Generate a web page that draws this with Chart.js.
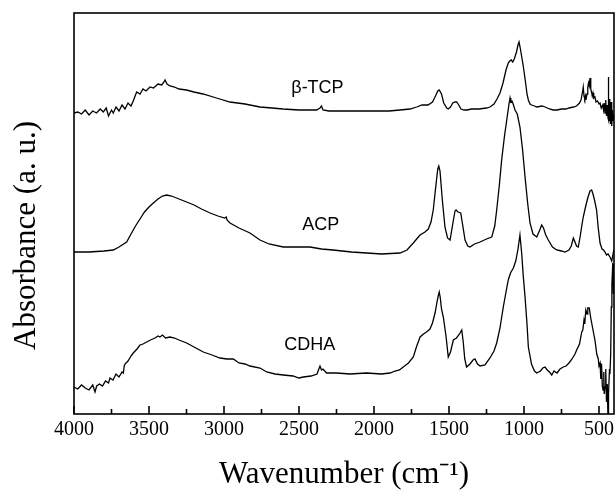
<!DOCTYPE html>
<html><head><meta charset="utf-8">
<script src="https://cdn.jsdelivr.net/npm/chart.js@4.4.1/dist/chart.umd.min.js"></script>
<style>html,body{margin:0;padding:0;background:#fff}#wrap{width:616px;height:490px}</style>
</head><body><div id="wrap"><canvas id="c" width="616" height="490"></canvas></div>
<script>
// ---- axis ticks ----
const xTickValues = [4000,3500,3000,2500,2000,1500,1000,500];
const xMinorTicks = [3750,3250,2750,2250,1750,1250,750];
const xTitle = 'Wavenumber (cm\u207B\u00B9)';
const yTitle = 'Absorbance (a. u.)';

// ---- curve labels ----
const curveLabels = ['\u03B2-TCP','ACP','CDHA'];
const labelWn = [2377, 2355, 2429];
const labelAbs = [326, 189, 69];

// ---- beta-TCP ----
const tcpWn = [4000,3975,3950,3925,3900,3875,3850,3825,3805,3785,3770,3750,3738,3720,3700,3680,3660,3640,3620,3605,3590,3582,3560,3540,3520,3493,3470,3440,3415,3400,3393,3380,3360,3330,3300,3250,3200,3140,3050,2960,2860,2760,2680,2607,2500,2420,2382,2360,2350,2340,2300,2160,2000,1900,1827,1760,1715,1680,1640,1610,1590,1575,1565,1550,1535,1515,1505,1490,1475,1460,1449,1435,1420,1400,1380,1350,1300,1250,1227,1200,1180,1160,1140,1120,1105,1095,1085,1075,1065,1050,1040,1033,1025,1015,1005,990,980,971,960,950,930,915,880,860,830,805,780,750,720,700,671,650,630,620,610,605,600,595,590,587,580,575,570,565,560,555,550,545,540,535,527,520,510,500,493,485,475,470,465,460,455,450,445,440,438,435,432,430,427,423,420,415,410,405,400];
const tcpAbs = [301,302,300,304,299,303,301,305,302,306,298,304,301,307,303,309,305,311,308,313,319,322,320,325,323,327,326,330,329,332,334,330,328,327,325,324,322,320,316,312,310,307,306,305,304,304,304,306,308,304,303,303,303,303,304,305,307,309,309,312,318,323,324,320,311,306,305,307,311,312,312,309,305,304,304,305,305,306,307,310,315,321,331,344,351,353,354,352,355,362,369,372,366,357,348,332,320,314,310,309,308,307,308,307,305,304,304,305,305,306,307,308,311,314,322,327,318,315,318,314,320,326,331,328,336,325,322,318,321,316,317,312,313,310,311,306,309,304,311,301,314,298,309,296,337,294,315,293,306,290,312,288,304,293,299];

// ---- ACP ----
const acpWn = [4000,3900,3800,3738,3700,3649,3620,3590,3560,3530,3500,3471,3440,3410,3382,3350,3300,3249,3200,3150,3093,3040,2995,2985,2980,2960,2900,2827,2760,2700,2605,2500,2427,2350,2273,2150,2049,1950,1827,1780,1738,1710,1693,1660,1638,1620,1605,1590,1575,1568,1560,1545,1527,1510,1493,1475,1460,1453,1440,1422,1410,1393,1375,1360,1330,1293,1250,1215,1195,1182,1165,1149,1130,1115,1100,1093,1088,1080,1070,1060,1045,1027,1010,993,975,960,940,915,895,882,870,855,838,810,782,750,727,700,685,671,660,650,638,625,615,605,590,575,560,549,540,530,516,505,493,480,470,460,450,440,427,415,405,400];
const acpAbs = [162,162,163,164,167,172,180,188,195,202,207,211,215,218,219,218,215,212,209,205,201,198,196,197,194,191,186,181,174,170,167,167,167,165,164,162,161,160,161,164,171,176,179,182,185,192,204,225,245,248,243,215,187,176,174,190,203,204,202,201,190,174,168,167,170,172,175,177,188,204,228,254,278,294,310,316,312,313,309,304,300,287,265,237,210,191,180,177,184,189,186,179,174,167,164,163,162,164,168,176,172,168,167,178,188,197,207,216,223,224,220,214,204,186,171,165,164,162,159,160,157,153,161,164];

// ---- CDHA ----
const cdhaWn = [4000,3975,3950,3925,3900,3875,3860,3849,3830,3810,3790,3770,3760,3740,3720,3700,3680,3671,3665,3660,3640,3620,3605,3580,3560,3540,3515,3490,3460,3440,3427,3410,3390,3360,3330,3300,3249,3200,3138,3080,3027,2980,2938,2900,2860,2827,2760,2715,2660,2605,2540,2500,2471,2420,2380,2365,2360,2350,2340,2316,2250,2160,2050,1950,1893,1860,1830,1805,1770,1738,1715,1700,1693,1670,1650,1627,1610,1593,1580,1572,1565,1558,1550,1538,1520,1505,1490,1471,1450,1430,1415,1405,1395,1383,1360,1340,1327,1310,1293,1260,1227,1200,1182,1160,1138,1120,1105,1090,1071,1055,1040,1027,1015,1005,993,980,971,950,930,915,890,875,860,845,830,815,800,780,760,738,720,700,680,660,649,630,615,608,600,595,588,580,575,565,555,545,535,527,515,505,500,493,488,483,478,473,468,465,460,455,450,445,440,438,435,430,427,422,418,414,408,404,400];
const cdhaAbs = [27,25,29,26,24,29,22,28,30,28,33,31,36,34,40,37,42,41,48,50,53,58,61,65,69,70,72,74,76,78,77,79,76,77,76,74,71,67,62,59,56,55,55,51,50,48,46,42,40,39,38,36,37,38,40,46,48,44,45,41,41,40,41,40,41,43,44,47,51,57,68,74,77,80,82,85,91,101,112,118,122,116,105,97,78,57,62,74,76,80,84,72,55,47,50,54,55,50,48,49,56,63,71,86,107,122,134,141,146,153,165,179,160,138,117,90,67,50,43,41,43,46,47,44,42,39,43,41,45,47,48,51,55,60,64,70,82,84,94,90,104,100,106,106,96,88,80,74,60,55,48,51,35,50,28,24,42,20,27,45,12,30,-5,-3,20,45,40,60,107,130,151,120,150];

const toPts = (xs, ys) => xs.map((v, i) => ({x: v, y: ys[i]}));

const SERIF = '"Liberation Serif", "Times New Roman", serif';
const SANS = '"Liberation Sans", Arial, sans-serif';

const decorPlugin = {
  id: 'decor',
  afterDatasetsDraw(chart) {
    const {ctx, chartArea: a, scales: {x, y}} = chart;
    ctx.save();
    ctx.strokeStyle = '#000';
    ctx.lineWidth = 1.6;
    ctx.strokeRect(a.left, a.top, a.right - a.left, a.bottom - a.top);
    ctx.beginPath();
    xTickValues.forEach(v => { const p = x.getPixelForValue(v); ctx.moveTo(p, a.bottom); ctx.lineTo(p, a.bottom - 8); });
    xMinorTicks.forEach(v => { const p = x.getPixelForValue(v); ctx.moveTo(p, a.bottom); ctx.lineTo(p, a.bottom - 5); });
    ctx.stroke();
    ctx.fillStyle = '#000';
    ctx.font = '18px ' + SANS;
    ctx.textAlign = 'center';
    ctx.textBaseline = 'middle';
    curveLabels.forEach((t, i) => ctx.fillText(t, x.getPixelForValue(labelWn[i]), y.getPixelForValue(labelAbs[i])));
    ctx.translate(35, (a.top + a.bottom) / 2 + 22);
    ctx.rotate(-Math.PI / 2);
    ctx.font = '31px ' + SERIF;
    ctx.textBaseline = 'alphabetic';
    ctx.fillText(yTitle, 0, 0);
    ctx.restore();
  }
};

const lineStyle = {borderColor: '#000', borderWidth: 1.3, pointRadius: 0, tension: 0, fill: false};

new Chart(document.getElementById('c'), {
  type: 'line',
  data: {
    datasets: [
      Object.assign({label: '\u03B2-TCP', data: toPts(tcpWn, tcpAbs)}, lineStyle),
      Object.assign({label: 'ACP', data: toPts(acpWn, acpAbs)}, lineStyle),
      Object.assign({label: 'CDHA', data: toPts(cdhaWn, cdhaAbs)}, lineStyle)
    ]
  },
  options: {
    responsive: false,
    animation: false,
    events: [],
    layout: {padding: {top: 13, right: 2, left: 0, bottom: 0}},
    plugins: {legend: {display: false}, tooltip: {enabled: false}},
    scales: {
      x: {
        type: 'linear',
        reverse: true,
        min: 400,
        max: 4000,
        afterBuildTicks: s => { s.ticks = xTickValues.map(v => ({value: v})); },
        afterFit: s => { s.height = 76; s.paddingLeft = 0; s.paddingRight = 0; },
        grid: {display: false, drawTicks: false},
        border: {display: false},
        ticks: {color: '#000', padding: 4, maxRotation: 0, autoSkip: false, font: {family: SERIF, size: 20}, callback: v => String(v)},
        title: {display: true, text: xTitle, color: '#000', font: {family: SERIF, size: 31, lineHeight: 1}, padding: {top: 0, bottom: 0}}
      },
      y: {
        type: 'linear',
        min: 0,
        max: 401,
        afterFit: s => { s.width = 74; },
        grid: {display: false, drawTicks: false},
        border: {display: false},
        ticks: {display: false}
      }
    }
  },
  plugins: [decorPlugin]
});
</script>
</body></html>
